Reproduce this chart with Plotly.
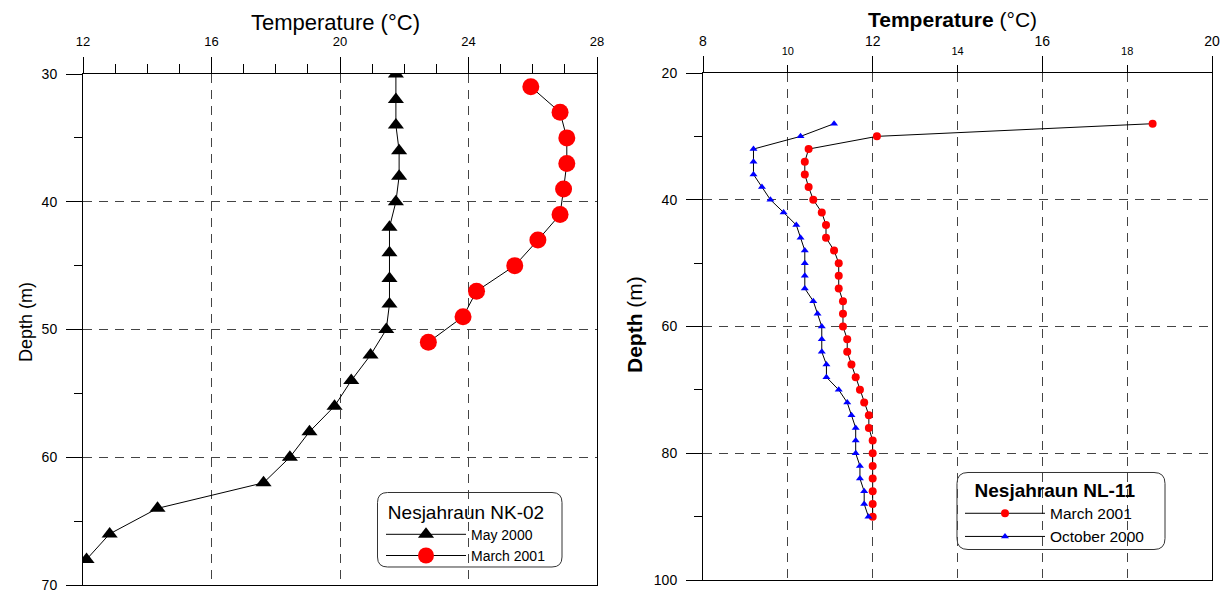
import plotly.graph_objects as go

# ---------------- data ----------------
nk02_may_depth = [30, 32, 34, 36, 38, 40, 42, 44, 46, 48, 50, 52, 54, 56, 58, 60, 62, 64, 66, 68]
nk02_may_temp = [21.74, 21.74, 21.74, 21.84, 21.84, 21.74, 21.54, 21.54, 21.54, 21.54,
                 21.44, 20.95, 20.35, 19.83, 19.05, 18.44, 17.62, 14.32, 12.83, 12.11]

nk02_mar_depth = [31, 33, 35, 37, 39, 41, 43, 45, 47, 49, 51]
nk02_mar_temp = [25.94, 26.85, 27.06, 27.06, 26.96, 26.85, 26.16, 25.44, 24.25, 23.83, 22.75]

nl11_depth = [28, 30, 32, 34, 36, 38, 40, 42, 44, 46, 48, 50, 52, 54, 56, 58,
              60, 62, 64, 66, 68, 70, 72, 74, 76, 78, 80, 82, 84, 86, 88, 90]
nl11_mar_temp = [18.6, 12.10, 10.49, 10.40, 10.40, 10.49, 10.60, 10.80, 10.90, 10.90, 11.09, 11.20,
                 11.20, 11.20, 11.30, 11.30, 11.30, 11.40, 11.40, 11.50, 11.60, 11.70, 11.80, 11.91,
                 11.91, 12.0, 12.0, 12.0, 12.0, 12.0, 12.0, 12.0]
nl11_oct_temp = [11.09, 10.30, 9.19, 9.19, 9.19, 9.39, 9.59, 9.90, 10.20, 10.30, 10.40, 10.40,
                 10.40, 10.40, 10.60, 10.70, 10.80, 10.80, 10.80, 10.91, 10.91, 11.20, 11.40, 11.50,
                 11.60, 11.60, 11.60, 11.70, 11.70, 11.80, 11.80, 11.90]

left_xticks = [12, 16, 20, 24, 28]
left_yticks = [30, 40, 50, 60, 70]
right_xticks_big = [8, 12, 16, 20]
right_xticks_small = [10, 14, 18]
right_yticks = [20, 40, 60, 80, 100]

# ---------------- layout helpers ----------------
W, H = 1223, 592
FONT = "Liberation Sans, Arial, sans-serif"


def px(x):
    return x / W


def py(y):
    return 1 - y / H


def rounded_box(x0, y0, x1, y1, r):
    pts = [
        ("M", [(x0 + r, y0)]), ("L", [(x1 - r, y0)]), ("Q", [(x1, y0), (x1, y0 + r)]),
        ("L", [(x1, y1 - r)]), ("Q", [(x1, y1), (x1 - r, y1)]), ("L", [(x0 + r, y1)]),
        ("Q", [(x0, y1), (x0, y1 - r)]), ("L", [(x0, y0 + r)]), ("Q", [(x0, y0), (x0 + r, y0)]),
    ]
    s = ""
    for cmd, coords in pts:
        s += cmd + " ".join(f"{px(a):.5f},{py(b):.5f}" for a, b in coords) + " "
    return s + "Z"


GRID_DASH = "9px,7px"

fig = go.Figure()

fig.add_trace(go.Scatter(
    x=nk02_may_temp, y=nk02_may_depth, mode="lines+markers", name="May 2000",
    line=dict(color="black", width=1),
    marker=dict(symbol="triangle-up", size=14, color="black"),
    xaxis="x", yaxis="y", legend="legend"))
fig.add_trace(go.Scatter(
    x=nk02_mar_temp, y=nk02_mar_depth, mode="lines+markers", name="March 2001",
    line=dict(color="black", width=1),
    marker=dict(symbol="circle", size=17, color="#ff0000"),
    xaxis="x", yaxis="y", legend="legend"))

fig.add_trace(go.Scatter(
    x=nl11_mar_temp, y=nl11_depth, mode="lines+markers", name="March 2001",
    line=dict(color="black", width=1),
    marker=dict(symbol="circle", size=8, color="#ff0000"),
    xaxis="x2", yaxis="y2", legend="legend2"))
fig.add_trace(go.Scatter(
    x=nl11_oct_temp, y=nl11_depth, mode="lines+markers", name="October 2000",
    line=dict(color="black", width=1),
    marker=dict(symbol="triangle-up", size=7, color="#0000ff"),
    xaxis="x2", yaxis="y2", legend="legend2"))
# empty helper trace so the secondary (small-label) top axis is drawn
fig.add_trace(go.Scatter(
    x=[None], y=[None], mode="markers", showlegend=False, hoverinfo="skip",
    xaxis="x3", yaxis="y2"))

common_axis = dict(showline=True, linecolor="black", linewidth=1, mirror=True,
                   zeroline=False, ticks="outside", tickcolor="black", tickwidth=1,
                   showgrid=True, gridcolor="#444444", gridwidth=1, griddash=GRID_DASH,
                   ticklabeloverflow="allow")

fig.update_layout(
    width=W, height=H, autosize=False,
    margin=dict(l=0, r=0, t=0, b=0, pad=0, autoexpand=False),
    paper_bgcolor="white", plot_bgcolor="white",
    font=dict(family=FONT, color="black", size=14),
    showlegend=True,
    xaxis=dict(
        **common_axis, domain=[px(83), px(597)], anchor="y", side="top",
        range=[12, 28], tickvals=left_xticks, ticklen=16, ticklabelstandoff=6,
        tickfont=dict(size=13),
        minor=dict(dtick=1, tick0=12, ticklen=9, tickcolor="black", ticks="outside", showgrid=False),
    ),
    yaxis=dict(
        **common_axis, domain=[py(585), py(74)], anchor="x",
        range=[70, 30], autorange=False, tickvals=left_yticks, ticklen=16, ticklabelstandoff=6,
        tickfont=dict(size=14),
        minor=dict(dtick=5, tick0=30, ticklen=8, tickcolor="black", ticks="outside", showgrid=False),
    ),
    xaxis2=dict(
        **common_axis, domain=[px(703), px(1212)], anchor="y2", side="top",
        range=[8, 20], tickvals=right_xticks_big, ticklen=16, ticklabelstandoff=4,
        tickfont=dict(size=14),
        minor=dict(dtick=2, tick0=8, ticklen=7, tickcolor="black", ticks="outside",
                   showgrid=True, gridcolor="#444444", gridwidth=1, griddash=GRID_DASH),
    ),
    xaxis3=dict(
        overlaying="x2", anchor="y2", side="top", range=[8, 20], autorange=False,
        tickvals=right_xticks_small, ticks="outside", ticklen=7, tickcolor="black",
        ticklabelstandoff=6,
        tickfont=dict(size=11), showgrid=False, showline=False, zeroline=False,
    ),
    yaxis2=dict(
        **common_axis, domain=[py(580), py(73)], anchor="x2",
        range=[100, 20], autorange=False, tickvals=right_yticks, ticklen=16, ticklabelstandoff=6,
        tickfont=dict(size=14),
        minor=dict(dtick=10, tick0=20, ticklen=8, tickcolor="black", ticks="outside", showgrid=False),
    ),
    legend=dict(
        title=dict(text="Nesjahraun NK-02", side="top center", font=dict(size=19)),
        x=px(381), y=py(494), xanchor="left", yanchor="top",
        bgcolor="rgba(0,0,0,0)", borderwidth=0, font=dict(size=14),
        itemwidth=80, tracegroupgap=0,
    ),
    legend2=dict(
        title=dict(text="<b>Nesjahraun NL-11</b>", side="top center", font=dict(size=19)),
        x=px(960), y=py(472), xanchor="left", yanchor="top",
        bgcolor="rgba(0,0,0,0)", borderwidth=0, font=dict(size=15.5),
        itemwidth=80, tracegroupgap=0,
    ),
    shapes=[
        dict(type="path", xref="paper", yref="paper",
             path=rounded_box(377.5, 492.5, 562, 567, 10),
             line=dict(color="#333333", width=1), fillcolor="white", layer="below"),
        dict(type="path", xref="paper", yref="paper",
             path=rounded_box(957, 472.5, 1165, 549.5, 11),
             line=dict(color="#333333", width=1), fillcolor="white", layer="below"),
    ],
    annotations=[
        dict(text="Temperature (°C)", xref="paper", yref="paper", x=px(335), y=py(22),
             xanchor="center", yanchor="middle", showarrow=False, font=dict(size=22)),
        dict(text="<b>Temperature</b> (°C)", xref="paper", yref="paper", x=px(952), y=py(20),
             xanchor="center", yanchor="middle", showarrow=False, font=dict(size=21)),
        dict(text="Depth (m)", xref="paper", yref="paper", x=px(26), y=py(322),
             xanchor="center", yanchor="middle", showarrow=False, textangle=-90, font=dict(size=18)),
        dict(text="<b>Depth</b> (m)", xref="paper", yref="paper", x=px(634), y=py(325),
             xanchor="center", yanchor="middle", showarrow=False, textangle=-90, font=dict(size=21)),
    ],
)

fig.write_html("out.html")
